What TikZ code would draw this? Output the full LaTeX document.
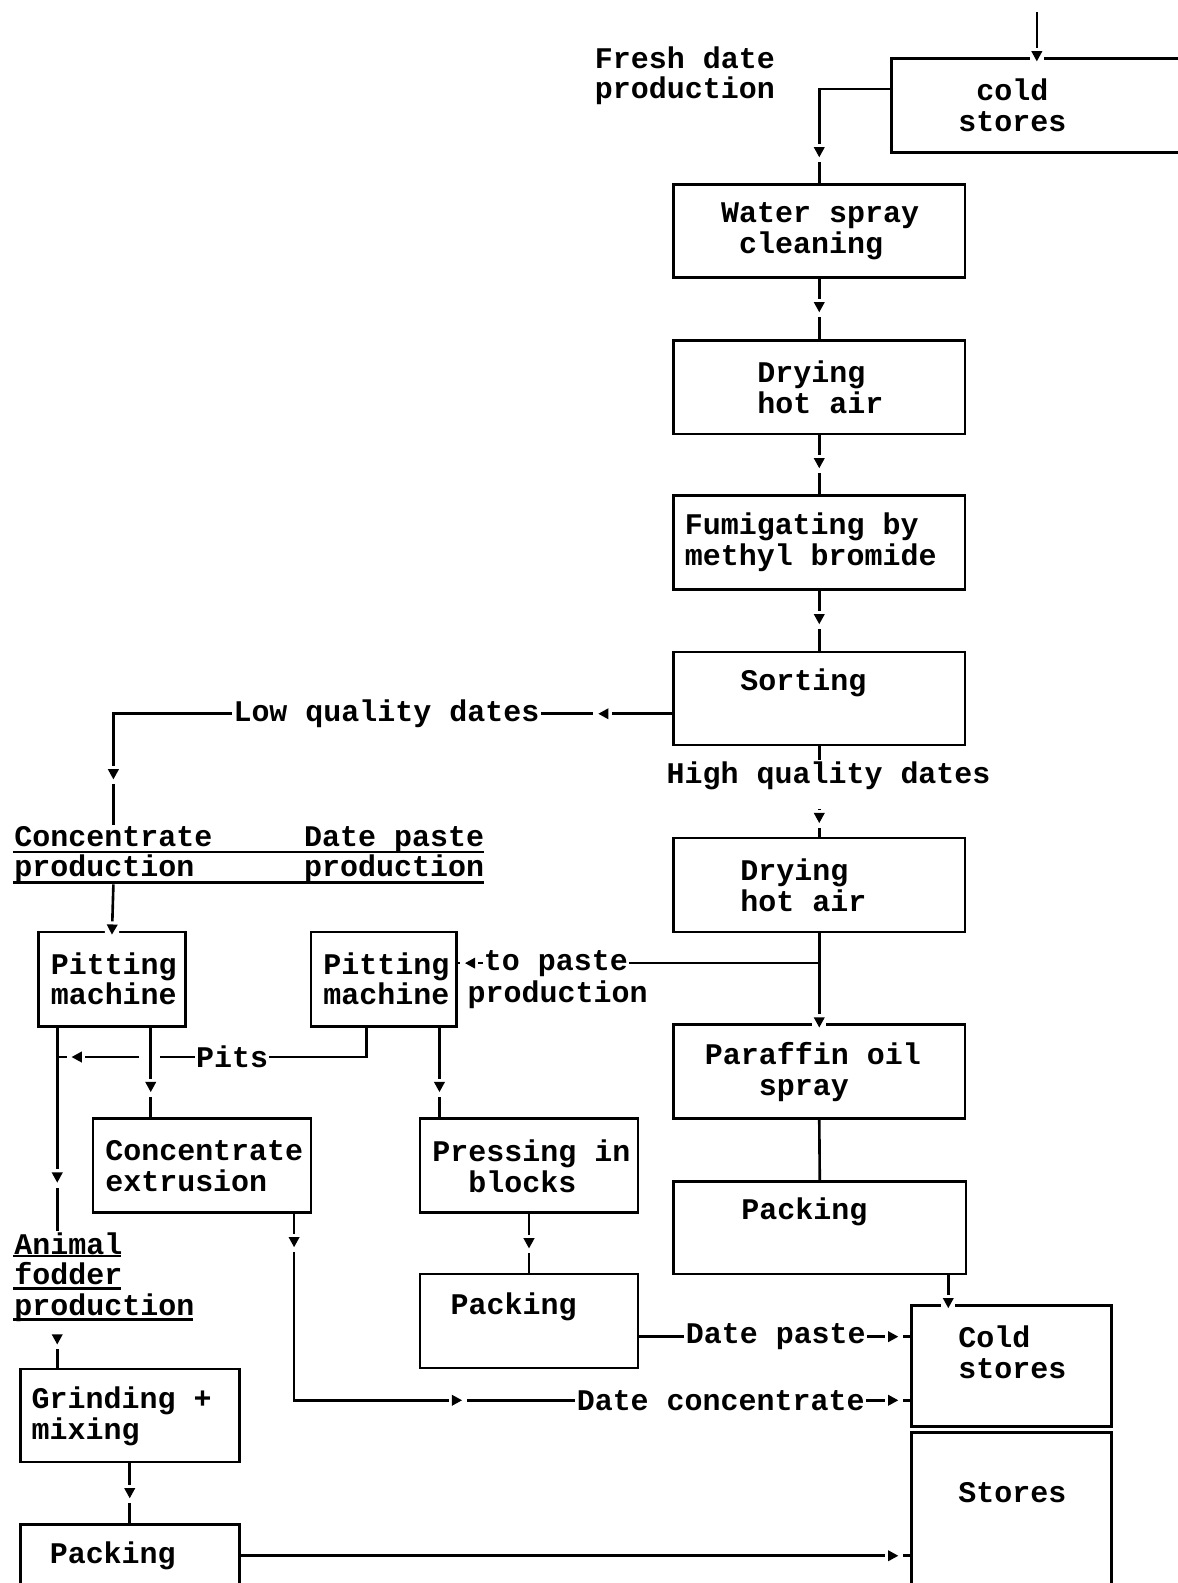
\documentclass[tikz,border=0pt]{standalone}
\usepackage{fontspec}
\usetikzlibrary{decorations.markings}
\newfontfamily\cour{Liberation Mono}
\newcommand{\gap}{\hspace*{0.6em}}
\newcommand{\tipmark}{\fill[white] (-8pt,-7pt) rectangle (10pt,7pt);
  \fill (5pt,0pt) -- (-5pt,5.5pt) -- (-5pt,-5.5pt) -- cycle;}
\tikzset{
  box/.style 2 args={draw, inner sep=0pt, minimum width=#1pt, minimum height=#2pt},
  txt/.style={inner sep=0pt, anchor=west, align=left},
  flowarr/.style={postaction={decorate, decoration={markings, mark=at position #1 with {\tipmark}}}},
}
\begin{document}
\begin{tikzpicture}[x=1pt, y=-1pt, line width=2.6pt,
  font=\cour\bfseries\fontsize{29.7}{30.5}\selectfont]
\useasboundingbox (0,0) rectangle (1166,1568);
%fresh dates line
\node[box={307}{93}] (cs1) at (1036.5,104.5) {};
\node[box={289}{92}] (wsc) at (811.5,229) {};
\node[box={289}{93}] (dry1) at (811.5,383.5) {};
\node[box={289}{93}] (fum) at (811.5,537.5) {};
\node[box={289}{92}] (sort) at (811.5,692) {};
\node[box={289}{93}] (dry2) at (811.5,876.5) {};
\node[box={289}{93}] (par) at (811.5,1061.5) {};
\node[box={290}{92}] (packr) at (812,1216) {};
\node[box={198}{120}] (cs2) at (1002,1353) {};
\node[box={198}{181}] (stores) at (1002,1509.5) {};
%low quality dates
\node[box={146}{94}] (pm1) at (111,970) {};
\node[box={144}{94}] (pm2) at (380,970) {};
\node[box={216}{93}] (ext) at (200,1154.5) {};
\node[box={216}{93}] (press) at (524,1154.5) {};
\node[box={216}{93}] (packm) at (524,1308.5) {};
\node[box={217}{92}] (grind) at (128.5,1402) {};
\node[box={217}{90}] (packl) at (128.5,1555) {};
%texts
\node[txt] (fresh) at (588,75) {Fresh date\\production};
\node[txt] (cs1t) at (948,104.5) {\gap cold\\stores};
\node[txt] (wsct) at (713,229) {Water spray\\\gap cleaning};
\node[txt] (dry1t) at (749,383.5) {Drying\\hot air};
\node[txt] (fumt) at (677,537) {Fumigating by\\methyl bromide};
\node[txt] (sortt) at (732,676) {Sorting};
\node[txt] (lq) at (230,707) {Low quality dates};
\node[txt] (hq) at (659,768) {High quality dates};
\node[txt] (dry2t) at (732,876.5) {Drying\\hot air};
\node[txt] (tp1) at (478,954) {to paste};
\node[txt] (tp2) at (462,985) {production};
\node[txt] (part) at (697,1062) {Paraffin oil\\\gap\gap\gap spray};
\node[txt] (packrt) at (733,1200) {Packing};
\node[txt] (cs2t) at (948,1339.5) {Cold\\stores};
\node[txt] (storest) at (948,1478) {Stores};
\node[txt] (dp) at (678,1324) {Date paste};
\node[txt] (dc) at (570,1387) {Date concentrate};
\node[txt] (conc) at (13,846.5) {Concentrate\\production};
\node[txt] (paste) at (300,846.5) {Date paste\\production};
\node[txt] (pm1t) at (49,969.5) {Pitting\\machine};
\node[txt] (pm2t) at (319,969.5) {Pitting\\machine};
\node[txt] (pits) at (193,1047) {Pits};
\node[txt] (extt) at (103,1155) {Concentrate\\extrusion};
\node[txt] (presst) at (427,1155) {Pressing in\\\gap\gap blocks};
\node[txt] (packmt) at (445,1294) {Packing};
\node[txt] (animal) at (13,1265) {Animal\\fodder\\production};
\node[txt] (grindt) at (30,1402.5) {Grinding +\\mixing};
\node[txt] (packlt) at (48,1541) {Packing};
%underlines
\draw (13,844) -- (479,844) (13,874) -- (479,874);
\draw (13,1244) -- (120,1244) (13,1276) -- (120,1276) (13,1307) -- (191,1307);
%connectors right
\coordinate (feed) at (1027,12);
\draw[flowarr=-1pt] (feed) -- (feed |- cs1.north);
\draw[flowarr=-31pt] ([yshift=16.5pt]cs1.west) -| (wsc.north);
\draw[flowarr=0.47] (wsc.south) -- (dry1.north);
\draw[flowarr=0.47] (dry1.south) -- (fum.north);
\draw[flowarr=0.47] (fum.south) -- (sort.north);
\draw (sort.south) -- (sort.south |- hq.north);
\draw[flowarr=9pt] ([yshift=-18pt]sort.south |- hq.south) -- (dry2.north);
\draw[flowarr=68pt] ([yshift=-15pt]sort.west) -- (lq.east);
\draw[flowarr=-1pt] (dry2.south) -- (par.north);
\draw (dry2.south |- tp1) -- (tp1.east);
\draw[flowarr=0.5] (tp1.west) -- (pm2.east |- tp1);
\draw (par.south) -- (packr.north);
\draw[flowarr=-1pt] ([xshift=-19pt]packr.south east) -- ([xshift=-19pt]packr.south east |- cs2.north);
\draw (packm.east |- dp) -- (dp.west);
\draw[flowarr=-17pt] (dp.east) -- (cs2.west |- dp);
\draw[flowarr=-17pt] (dc.east) -- (cs2.west |- dc);
\draw[flowarr=-17pt] (packl.east |- packlt) -- (stores.west |- packlt);
%connectors left
\draw[flowarr=-50pt] (lq.west) -| (conc.north);
\draw[flowarr=-1pt] (conc.south) -- (pm1.north);
\draw[flowarr=0.66] ([xshift=-36pt]pm1.south east) -- ([xshift=-36pt]pm1.south east |- ext.north);
\draw[flowarr=0.66] ([xshift=-18pt]pm2.south east) -- ([xshift=-18pt]pm2.south east |- press.north);
\draw[flowarr=0.5] (press.south) -- (packm.north);
\draw[flowarr=28pt, flowarr=346pt] ([xshift=-18pt]ext.south east) |- (dc.west);
\coordinate (pitsx) at (148,1047);
\coordinate (pitsend) at (58,1047);
\draw ([xshift=-17pt]pm2.south) |- (pits.east);
\draw (pits.west) -- ([xshift=10pt]pitsx);
\draw[flowarr=-18pt] ([xshift=-10pt]pitsx) -- (pitsend);
\draw[flowarr=-53pt] ([xshift=20pt]pm1.south west) -- ([xshift=20pt]pm1.south west |- animal.north);
\coordinate (fod) at ([xshift=38pt]grind.north west |- animal.south);
\draw[flowarr=6pt] ([yshift=-10pt]fod) -- ([xshift=38pt]grind.north west);
\draw[flowarr=0.5] (grind.south) -- (packl.north);
\end{tikzpicture}
\end{document}
